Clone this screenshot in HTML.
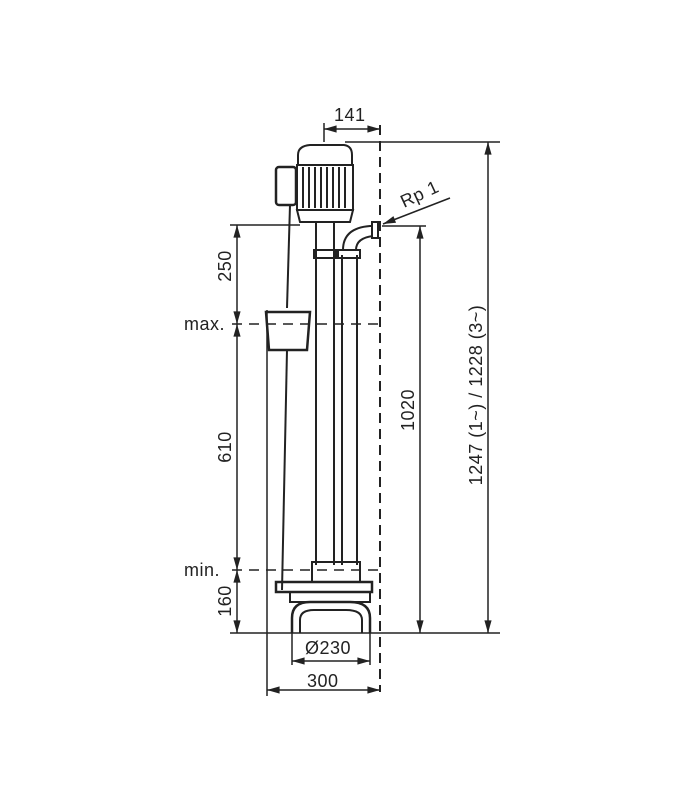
<!DOCTYPE html>
<html><head><style>
html,body{margin:0;padding:0;background:#fff;}
svg{display:block;}
text{font-family:"Liberation Sans","DejaVu Sans",sans-serif;fill:#222;font-size:18px;letter-spacing:0.5px;}
</style></head><body>
<svg width="700" height="800" viewBox="0 0 700 800" xmlns="http://www.w3.org/2000/svg">
<defs>
<marker id="b" viewBox="0 0 14 10" refX="14" refY="5" markerWidth="14" markerHeight="9" markerUnits="userSpaceOnUse" orient="auto-start-reverse"><path d="M0,1 L14,5 L0,9 z" fill="#222"/></marker>
</defs>
<g stroke="#222" fill="none" stroke-width="1.5">
<line x1="380" y1="125" x2="380" y2="692" stroke-dasharray="10,6" stroke-width="2"/>
<line x1="345" y1="142" x2="500" y2="142"/>
<line x1="324" y1="123" x2="324" y2="142"/>
<line x1="324" y1="129" x2="380" y2="129" marker-start="url(#b)" marker-end="url(#b)"/>
<line x1="488" y1="142" x2="488" y2="633" marker-start="url(#b)" marker-end="url(#b)"/>
<line x1="382" y1="226" x2="426" y2="226"/>
<line x1="420" y1="226" x2="420" y2="633" marker-start="url(#b)" marker-end="url(#b)"/>
<line x1="450" y1="198" x2="383" y2="224" marker-end="url(#b)"/>
<line x1="230" y1="225" x2="300" y2="225"/>
<line x1="237" y1="225" x2="237" y2="324" marker-start="url(#b)" marker-end="url(#b)"/>
<line x1="237" y1="324" x2="237" y2="570" marker-start="url(#b)" marker-end="url(#b)"/>
<line x1="237" y1="570" x2="237" y2="633" marker-start="url(#b)" marker-end="url(#b)"/>
<line x1="232" y1="324" x2="380" y2="324" stroke-dasharray="10,7"/>
<line x1="232" y1="570" x2="380" y2="570" stroke-dasharray="10,7"/>
<line x1="230" y1="633" x2="500" y2="633"/>
<line x1="267" y1="310" x2="267" y2="696"/>
<line x1="292" y1="633" x2="292" y2="665"/>
<line x1="370" y1="633" x2="370" y2="665"/>
<line x1="292" y1="661" x2="370" y2="661" marker-start="url(#b)" marker-end="url(#b)"/>
<line x1="267" y1="690" x2="380" y2="690" marker-start="url(#b)" marker-end="url(#b)"/>

<path d="M298,155 Q298,146 310,145 L344,145 Q352,146 352,155 L352,165 L298,165 Z" stroke-width="2"/>
<rect x="297" y="165" width="56" height="45" stroke-width="2"/>
<g stroke-width="2">
<line x1="303" y1="167" x2="303" y2="208"/><line x1="309" y1="167" x2="309" y2="208"/>
<line x1="315" y1="167" x2="315" y2="208"/><line x1="321" y1="167" x2="321" y2="208"/>
<line x1="327" y1="167" x2="327" y2="208"/><line x1="333" y1="167" x2="333" y2="208"/>
<line x1="339" y1="167" x2="339" y2="208"/><line x1="345" y1="167" x2="345" y2="208"/>
</g>
<path d="M297,210 L353,210 L350,222 L300,222 Z" stroke-width="2"/>
<rect x="276" y="167" width="20" height="38" rx="3" stroke-width="2.5"/>
<line x1="290" y1="205" x2="287" y2="308" stroke-width="2"/>
<line x1="287" y1="350" x2="282" y2="590" stroke-width="2"/>
<path d="M266,312 L310,312 L307,350 L269,350 Z" stroke-width="2.5"/>
<line x1="316" y1="222" x2="316" y2="565" stroke-width="2"/>
<line x1="334" y1="222" x2="334" y2="565" stroke-width="2"/>
<line x1="342" y1="255" x2="342" y2="565" stroke-width="2"/>
<line x1="357" y1="255" x2="357" y2="565" stroke-width="2"/>
<rect x="314" y="250" width="22" height="8" stroke-width="2"/>
<rect x="338" y="250" width="22" height="8" stroke-width="2"/>
<path d="M343,250 Q343,228 370,226 L373,226" stroke-width="2"/>
<path d="M356,250 Q356,238 373,236" stroke-width="2"/>
<rect x="372" y="222" width="6" height="16" stroke-width="2"/>
<rect x="312" y="562" width="48" height="20" stroke-width="2"/>
<rect x="276" y="582" width="96" height="10" stroke-width="2.5"/>
<rect x="290" y="592" width="80" height="10" stroke-width="2"/>
<path d="M292,633 L292,618 Q292,602 310,602 L350,602 Q370,602 370,618 L370,633" stroke-width="2.5"/>
<path d="M300,633 L300,620 Q300,610 314,610 L346,610 Q362,610 362,620 L362,633" stroke-width="2"/>
</g>
<text x="334" y="121">141</text>
<text x="404" y="208" transform="rotate(-25 404 208)">Rp 1</text>
<text x="184" y="330">max.</text>
<text x="184" y="576">min.</text>
<text x="305" y="654">Ø230</text>
<text x="307" y="687">300</text>
<text transform="translate(231 266) rotate(-90)" text-anchor="middle">250</text>
<text transform="translate(231 447) rotate(-90)" text-anchor="middle">610</text>
<text transform="translate(231 601) rotate(-90)" text-anchor="middle">160</text>
<text transform="translate(414 410) rotate(-90)" text-anchor="middle">1020</text>
<text transform="translate(482 395) rotate(-90)" text-anchor="middle">1247 (1~) / 1228 (3~)</text>
</svg>
</body></html>
